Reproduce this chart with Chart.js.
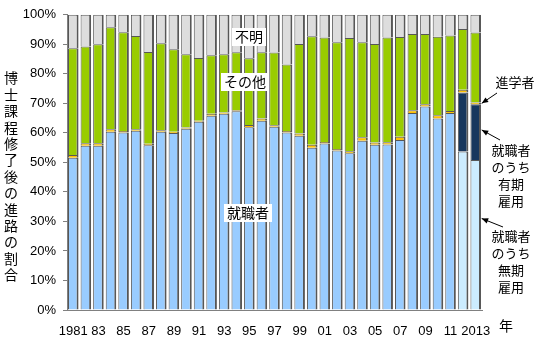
<!DOCTYPE html>
<html>
<head>
<meta charset="utf-8">
<script src="https://cdn.jsdelivr.net/npm/chart.js@4.4.1/dist/chart.umd.min.js"></script>
<style>
  html, body { margin: 0; padding: 0; background: #fff; }
</style>
</head>
<body>
<canvas id="chart" width="536" height="350"></canvas>
<script>
// Career paths after doctoral course completion (share, %)

const years = [
  "1981", "1982", "1983", "1984", "1985", "1986", "1987", "1988", "1989", "1990",
  "1991", "1992", "1993", "1994", "1995", "1996", "1997", "1998", "1999", "2000",
  "2001", "2002", "2003", "2004", "2005", "2006", "2007", "2008", "2009", "2010",
  "2011", "2012", "2013",
];
const xTickLabels = [
  "1981", "", "83", "", "85", "", "87", "", "89", "", "91", "", "93", "", "95", "",
  "97", "", "99", "", "01", "", "03", "", "05", "", "07", "", "09", "", "11", "", "2013",
];

// 就職者 (employed) - single series up to 2011
const employed = [
  51.6, 55.6, 55.6, 60.4, 60.1, 60.7, 55.8, 60.4, 60.0, 61.4,
  63.8, 65.8, 66.5, 67.3, 61.9, 64.1, 62.1, 60.1, 59.0, 55.0,
  56.4, 54.0, 53.1, 57.3, 56.0, 56.1, 57.6, 66.7, 68.9, 64.9,
  66.7, null, null,
];
// 2012-2013 employed split: permanent / fixed-term
const employedPermanent = [
  null, null, null, null, null, null, null, null, null, null,
  null, null, null, null, null, null, null, null, null, null,
  null, null, null, null, null, null, null, null, null, null,
  null, 53.7, 50.8,
];
const employedFixedTerm = [
  null, null, null, null, null, null, null, null, null, null,
  null, null, null, null, null, null, null, null, null, null,
  null, null, null, null, null, null, null, null, null, null,
  null, 20.0, 18.9,
];
// 進学者 (further study)
const furtherStudy = [
  0.9, 0.9, 0.9, 0.8, 0.5, 0.5, 0.5, 0.5, 0.4, 0.4,
  0.3, 0.7, 0.4, 0.4, 0.8, 0.8, 0.5, 0.5, 0.8, 1.0,
  0.5, 0.5, 0.7, 1.2, 0.7, 0.7, 1.1, 1.0, 0.8, 1.1,
  0.7, 0.9, 0.6,
];
// その他 (other)
const other = [
  36.2, 32.8, 33.5, 34.6, 33.5, 31.6, 31.1, 29.5, 27.9, 24.8,
  21.3, 19.8, 19.7, 19.6, 22.6, 22.4, 24.6, 22.6, 30.3, 36.7,
  35.4, 36.2, 38.3, 32.2, 33.4, 35.5, 33.8, 25.8, 23.8, 26.6,
  25.6, 20.6, 23.7,
];
// 不明 (unknown)
const unknown = [
  11.3, 10.7, 10.0, 4.2, 5.9, 7.2, 12.6, 9.6, 11.7, 13.4,
  14.6, 13.7, 13.4, 12.7, 14.7, 12.7, 12.8, 16.8, 9.9, 7.3,
  7.7, 9.3, 7.9, 9.3, 9.9, 7.7, 7.5, 6.5, 6.5, 7.4,
  7.0, 4.8, 6.0,
];

const JP_FONT = "'Noto Sans CJK JP', sans-serif";
Chart.defaults.font.family = "'Liberation Sans', 'Noto Sans CJK JP', sans-serif";
Chart.defaults.color = "#000";

function barSet(label, data, color) {
  return {
    label: label,
    data: data,
    backgroundColor: color,
    borderColor: "#575757",
    borderWidth: { left: 1, right: 2, top: 1, bottom: 0 },
    borderSkipped: false,
    barPercentage: 0.84,
    categoryPercentage: 1.0,
  };
}

// extra text: vertical axis title, labels and arrows
const annotationPlugin = {
  id: "annotations",
  afterDraw: function (chart) {
    const c = chart.ctx;
    const x = chart.scales.x;
    const y = chart.scales.y;
    c.save();
    c.fillStyle = "#000";
    c.textAlign = "center";
    c.textBaseline = "middle";

    // vertical y-axis title, one character per line
    c.font = "14px " + JP_FONT;
    const title = "博士課程修了後の進路の割合";
    for (let i = 0; i < title.length; i++) {
      c.fillText(title[i], 11, 78 + i * 16.4);
    }

    c.font = "14px " + JP_FONT;
    c.fillText("年", 506, 326);

    // in-chart labels with white boxes
    function boxLabel(text, cx, cy) {
      c.font = "14px " + JP_FONT;
      const w = c.measureText(text).width + 6;
      c.fillStyle = "#fff";
      c.fillRect(cx - w / 2, cy - 9, w, 18);
      c.fillStyle = "#000";
      c.fillText(text, cx, cy);
    }
    boxLabel("不明", 249, 37);
    boxLabel("その他", 245, 82);
    boxLabel("就職者", 248, 213);

    // right-hand labels
    c.font = "13px " + JP_FONT;
    c.fillText("進学者", 515, 82);
    ["就職者", "のうち", "有期", "雇用"].forEach(function (t, i) {
      c.fillText(t, 511, 150 + i * 17);
    });
    ["就職者", "のうち", "無期", "雇用"].forEach(function (t, i) {
      c.fillText(t, 511, 236 + i * 17);
    });

    // arrows pointing at the 2013 bar
    const edge = x.getPixelForValue(32) + 6;
    function arrow(x0, y0, x1, y1) {
      c.strokeStyle = "#000";
      c.lineWidth = 1;
      c.beginPath();
      c.moveTo(x0, y0);
      c.lineTo(x1, y1);
      c.stroke();
      const a = Math.atan2(y1 - y0, x1 - x0);
      c.beginPath();
      c.moveTo(x1, y1);
      c.lineTo(x1 - 7 * Math.cos(a - 0.4), y1 - 7 * Math.sin(a - 0.4));
      c.lineTo(x1 - 7 * Math.cos(a + 0.4), y1 - 7 * Math.sin(a + 0.4));
      c.closePath();
      c.fill();
    }
    arrow(497, 93, edge, y.getPixelForValue(70));
    arrow(500, 140, edge, y.getPixelForValue(61));
    arrow(503, 227, edge, y.getPixelForValue(31));
    c.restore();
  },
};

new Chart(document.getElementById("chart"), {
  type: "bar",
  data: {
    labels: years,
    datasets: [
      barSet("就職者", employed, "#99ccff"),
      barSet("就職者のうち無期雇用", employedPermanent, "#ccecff"),
      barSet("就職者のうち有期雇用", employedFixedTerm, "#17375e"),
      barSet("進学者", furtherStudy, "#ffc000"),
      barSet("その他", other, "#99cc00"),
      barSet("不明", unknown, "#dddddd"),
    ],
  },
  options: {
    responsive: false,
    animation: false,
    layout: {
      padding: { top: 14, right: 54, left: 0, bottom: 0 },
    },
    plugins: {
      legend: { display: false },
      tooltip: { enabled: false },
    },
    scales: {
      x: {
        stacked: true,
        grid: { display: false },
        border: { display: true, color: "#808080" },
        ticks: {
          autoSkip: false,
          maxRotation: 0,
          minRotation: 0,
          padding: 6,
          font: { size: 13 },
          callback: function (value, index) {
            return xTickLabels[index];
          },
        },
        afterFit: function (scale) {
          scale.height = 40;
        },
      },
      y: {
        stacked: true,
        min: 0,
        max: 100,
        grid: {
          drawOnChartArea: false,
          drawTicks: true,
          tickLength: 4,
          color: "#808080",
        },
        border: { display: true, color: "#808080" },
        ticks: {
          stepSize: 10,
          padding: 7,
          font: { size: 13 },
          callback: function (value) {
            return value + "%";
          },
        },
        afterFit: function (scale) {
          scale.width = 67;
        },
      },
    },
  },
  plugins: [annotationPlugin],
});
</script>
</body>
</html>
